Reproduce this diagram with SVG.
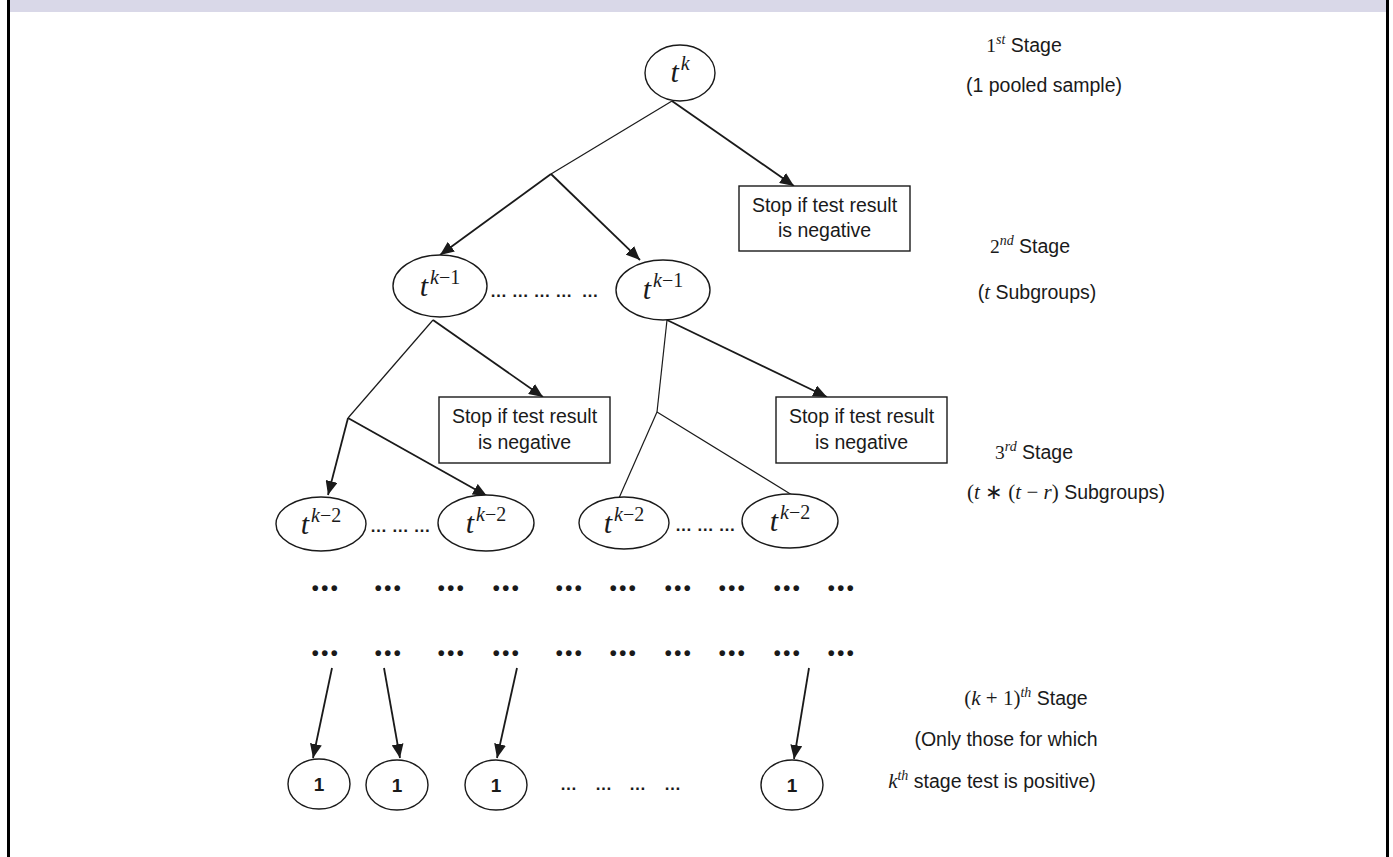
<svg xmlns="http://www.w3.org/2000/svg" width="1393" height="857" viewBox="0 0 1393 857">
<style>
.bg{fill:#ffffff}
.node{fill:#ffffff;stroke:#1a1a1a;stroke-width:1.4}
.box{fill:#ffffff;stroke:#1a1a1a;stroke-width:1.4}
.thin{stroke:#1a1a1a;stroke-width:1.2;fill:none}
.arr{stroke:#1a1a1a;stroke-width:1.8;fill:none;marker-end:url(#ah)}
.lbl{font-family:"Liberation Sans",Arial,sans-serif;font-size:19.5px;fill:#1a1a1a}
.mt{font-family:"Liberation Serif","Times New Roman",serif;font-style:italic;fill:#1a1a1a}
.mu{font-family:"Liberation Serif","Times New Roman",serif;fill:#1a1a1a}
.dots{font-family:"Liberation Sans",Arial,sans-serif;font-size:17px;font-weight:bold;fill:#1a1a1a}
.bul{font-family:"Liberation Sans",Arial,sans-serif;font-size:20px;font-weight:bold;letter-spacing:2.5px;fill:#1a1a1a;text-anchor:middle}
.one{font-family:"Liberation Sans",Arial,sans-serif;font-size:19px;font-weight:bold;fill:#1a1a1a;text-anchor:middle}
</style>
<defs>
<marker id="ah" markerUnits="userSpaceOnUse" markerWidth="16" markerHeight="12" refX="14" refY="6" orient="auto">
<path d="M0,0 L14,6 L0,12 Z" fill="#1a1a1a"/>
</marker>
</defs>
<rect class="bg" x="0" y="0" width="1393" height="857"/>
<rect x="10" y="0" width="1376" height="12" fill="#d9d8e8"/>
<rect x="7" y="0" width="3" height="857" fill="#000"/>
<rect x="1386" y="0" width="3" height="857" fill="#000"/>

<g id="connectors">
<line class="thin" x1="672" y1="101" x2="551" y2="174"/>
<line class="thin" x1="433" y1="320" x2="348" y2="418"/>
<line class="thin" x1="667" y1="320" x2="657" y2="412"/>
<line class="thin" x1="657" y1="412" x2="619" y2="498"/>
<line class="thin" x1="657" y1="412" x2="792" y2="495"/>
<line class="arr" x1="672" y1="101" x2="794" y2="186"/>
<line class="arr" x1="551" y1="174" x2="440" y2="255"/>
<line class="arr" x1="551" y1="174" x2="640" y2="260"/>
<line class="arr" x1="433" y1="320" x2="543" y2="397"/>
<line class="arr" x1="667" y1="320" x2="827" y2="397"/>
<line class="arr" x1="348" y1="418" x2="328" y2="495"/>
<line class="arr" x1="348" y1="418" x2="487" y2="496"/>
<line class="arr" x1="332" y1="668" x2="313" y2="758"/>
<line class="arr" x1="384" y1="668" x2="400" y2="758"/>
<line class="arr" x1="517" y1="668" x2="497" y2="758"/>
<line class="arr" x1="809" y1="668" x2="794" y2="759"/>
</g>

<g id="n-root">
<ellipse class="node" cx="680" cy="73" rx="35" ry="28"/>
<text x="680" y="82" text-anchor="middle"><tspan class="mt" font-size="30">t</tspan><tspan class="mt" font-size="20" dx="2" dy="-12">k</tspan></text>
</g>

<g id="box1">
<rect class="box" x="739" y="186" width="171" height="65"/>
<text class="lbl" x="824.5" y="212" text-anchor="middle">Stop if test result</text>
<text class="lbl" x="824.5" y="237" text-anchor="middle">is negative</text>
</g>

<g id="n-k1-left">
<ellipse class="node" cx="440" cy="286" rx="47" ry="31"/>
<text x="440" y="296" text-anchor="middle"><tspan class="mt" font-size="30">t</tspan><tspan class="mt" font-size="20" dx="2" dy="-12">k</tspan><tspan class="mu" font-size="20">−1</tspan></text>
</g>
<text id="dots-k1" class="dots" x="490" y="297" xml:space="preserve">… … … …  …</text>
<g id="n-k1-right">
<ellipse class="node" cx="663" cy="290" rx="47" ry="30"/>
<text x="663" y="299" text-anchor="middle"><tspan class="mt" font-size="30">t</tspan><tspan class="mt" font-size="20" dx="2" dy="-12">k</tspan><tspan class="mu" font-size="20">−1</tspan></text>
</g>

<g id="box2">
<rect class="box" x="439" y="397" width="171" height="66"/>
<text class="lbl" x="524.5" y="423" text-anchor="middle">Stop if test result</text>
<text class="lbl" x="524.5" y="449" text-anchor="middle">is negative</text>
</g>
<g id="box3">
<rect class="box" x="776" y="397" width="171" height="66"/>
<text class="lbl" x="861.5" y="423" text-anchor="middle">Stop if test result</text>
<text class="lbl" x="861.5" y="449" text-anchor="middle">is negative</text>
</g>

<g id="n-k2-1">
<ellipse class="node" cx="321" cy="524" rx="45" ry="27"/>
<text x="321" y="534" text-anchor="middle"><tspan class="mt" font-size="30">t</tspan><tspan class="mt" font-size="20" dx="2" dy="-12">k</tspan><tspan class="mu" font-size="20">−2</tspan></text>
</g>
<text id="dots-k2-a" class="dots" x="370" y="532">… … …</text>
<g id="n-k2-2">
<ellipse class="node" cx="486" cy="523" rx="48" ry="28"/>
<text x="486" y="533" text-anchor="middle"><tspan class="mt" font-size="30">t</tspan><tspan class="mt" font-size="20" dx="2" dy="-12">k</tspan><tspan class="mu" font-size="20">−2</tspan></text>
</g>
<g id="n-k2-3">
<ellipse class="node" cx="624" cy="523" rx="45" ry="26"/>
<text x="624" y="533" text-anchor="middle"><tspan class="mt" font-size="30">t</tspan><tspan class="mt" font-size="20" dx="2" dy="-12">k</tspan><tspan class="mu" font-size="20">−2</tspan></text>
</g>
<text id="dots-k2-b" class="dots" x="675" y="531">… … …</text>
<g id="n-k2-4">
<ellipse class="node" cx="790" cy="521" rx="48" ry="27"/>
<text x="790" y="531" text-anchor="middle"><tspan class="mt" font-size="30">t</tspan><tspan class="mt" font-size="20" dx="2" dy="-12">k</tspan><tspan class="mu" font-size="20">−2</tspan></text>
</g>

<g id="dot-rows">
<text class="bul" x="326" y="595">•••</text>
<text class="bul" x="389" y="595">•••</text>
<text class="bul" x="452" y="595">•••</text>
<text class="bul" x="507" y="595">•••</text>
<text class="bul" x="570" y="595">•••</text>
<text class="bul" x="624" y="595">•••</text>
<text class="bul" x="679" y="595">•••</text>
<text class="bul" x="733" y="595">•••</text>
<text class="bul" x="788" y="595">•••</text>
<text class="bul" x="842" y="595">•••</text>
<text class="bul" x="326" y="660">•••</text>
<text class="bul" x="389" y="660">•••</text>
<text class="bul" x="452" y="660">•••</text>
<text class="bul" x="507" y="660">•••</text>
<text class="bul" x="570" y="660">•••</text>
<text class="bul" x="624" y="660">•••</text>
<text class="bul" x="679" y="660">•••</text>
<text class="bul" x="733" y="660">•••</text>
<text class="bul" x="788" y="660">•••</text>
<text class="bul" x="842" y="660">•••</text>
</g>

<g id="n-one-1"><ellipse class="node" cx="319" cy="784" rx="31" ry="25"/><text class="one" x="319" y="791">1</text></g>
<g id="n-one-2"><ellipse class="node" cx="397" cy="785" rx="31" ry="25"/><text class="one" x="397" y="792">1</text></g>
<g id="n-one-3"><ellipse class="node" cx="496" cy="785" rx="31" ry="25"/><text class="one" x="496" y="792">1</text></g>
<text id="dots-one" class="dots" font-size="17" x="560 595 629 664" y="790">…………</text>
<g id="n-one-4"><ellipse class="node" cx="792" cy="785" rx="31" ry="25"/><text class="one" x="792" y="792">1</text></g>

<g id="stage-labels">
<text class="lbl" x="1024" y="52" text-anchor="middle"><tspan class="mu">1</tspan><tspan class="mt" font-size="14" dy="-8">st</tspan><tspan dy="8"> Stage</tspan></text>
<text class="lbl" x="1044" y="92" text-anchor="middle">(1 pooled sample)</text>
<text class="lbl" x="1030" y="253" text-anchor="middle"><tspan class="mu">2</tspan><tspan class="mt" font-size="14" dy="-8">nd</tspan><tspan dy="8"> Stage</tspan></text>
<text class="lbl" x="1037" y="299" text-anchor="middle">(<tspan class="mt" font-size="21">t</tspan> Subgroups)</text>
<text class="lbl" x="1034" y="459" text-anchor="middle"><tspan class="mu">3</tspan><tspan class="mt" font-size="14" dy="-8">rd</tspan><tspan dy="8"> Stage</tspan></text>
<text class="lbl" x="1066" y="499" text-anchor="middle"><tspan class="mu" font-size="21">(</tspan><tspan class="mt" font-size="21">t</tspan><tspan class="mu" font-size="21"> ∗ (</tspan><tspan class="mt" font-size="21">t</tspan><tspan class="mu" font-size="21"> − </tspan><tspan class="mt" font-size="21">r</tspan><tspan class="mu" font-size="21">)</tspan> Subgroups)</text>
<text class="lbl" x="1026" y="705" text-anchor="middle"><tspan class="mu" font-size="21">(</tspan><tspan class="mt" font-size="21">k</tspan><tspan class="mu" font-size="21"> + 1)</tspan><tspan class="mt" font-size="14" dy="-8">th</tspan><tspan dy="8"> Stage</tspan></text>
<text class="lbl" x="1006" y="746" text-anchor="middle">(Only those for which</text>
<text class="lbl" x="992" y="788" text-anchor="middle"><tspan class="mt" font-size="21">k</tspan><tspan class="mt" font-size="14" dy="-8">th</tspan><tspan dy="8"> stage test is positive)</tspan></text>
</g>
</svg>
